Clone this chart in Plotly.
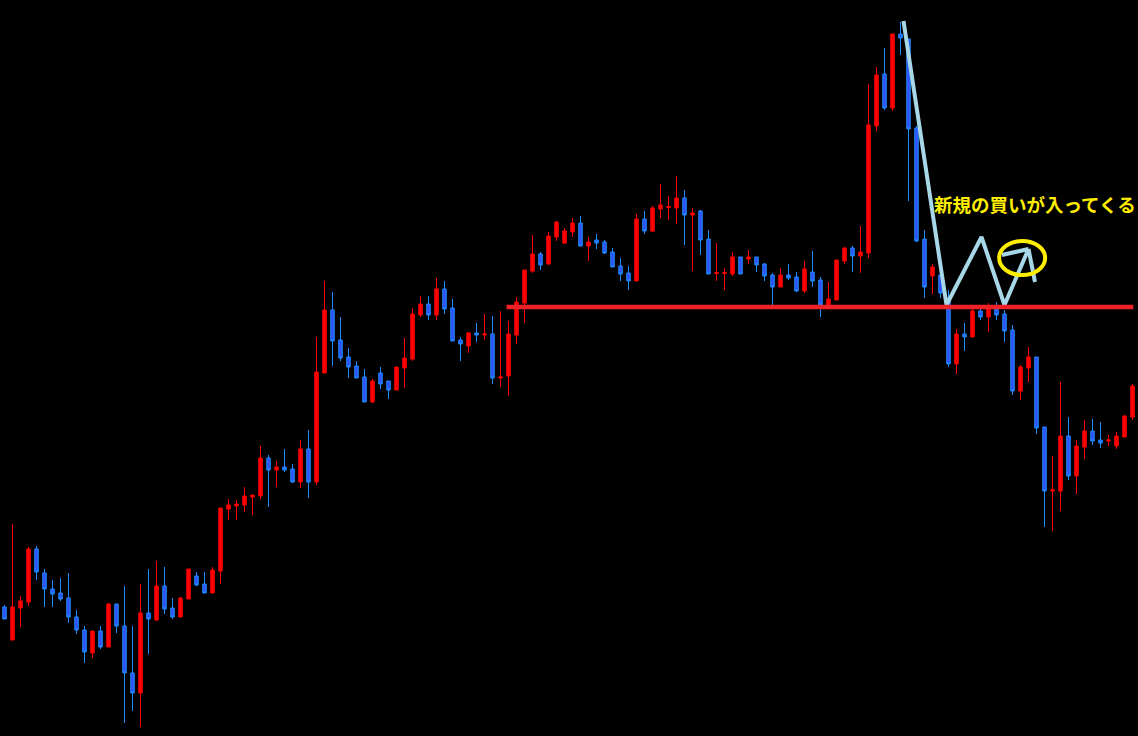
import plotly.graph_objects as go

# ---- candle data (index order, left to right) ----
opens = [129, 96, 128, 134, 187, 163, 147, 143, 138, 119, 106, 83, 105, 89, 132, 110, 63, 43, 123, 116,
         150, 128, 119, 137, 160, 152, 143, 165, 227, 230, 231, 239, 240, 278, 266, 269, 267, 254, 287, 254,
         363, 426, 396, 379, 370, 359, 334, 363, 355, 346, 368, 377, 421, 432, 421, 447, 428, 396, 390, 403,
         401, 402, 358, 360, 401, 433, 465, 482, 472, 499, 493, 504, 513, 490, 496, 494, 484, 470, 463, 455,
         517, 505, 527, 528.5, 528, 538, 521, 525, 497, 462.5, 462.5, 462, 479, 477, 479, 472, 461, 449, 461, 459,
         445, 464, 456, 430, 436, 475, 488, 480, 483, 610, 662, 628, 702, 697, 608, 497, 460, 461, 438, 372,
         402, 399, 425, 419, 427, 422, 406, 345, 368, 379, 309, 245, 245, 300, 260, 289, 305, 296, 295, 290,
         299, 319]
highs = [131, 212, 140, 189, 190, 167, 156, 158, 163, 126, 110, 105, 110, 133, 132, 150, 110, 152, 167, 175,
         169, 138, 139, 167, 164, 164, 169, 228, 237, 236, 249, 241, 290, 281, 275, 287, 272, 296, 306, 399,
         455, 444, 419, 388, 375, 367, 357, 369, 355, 369, 398, 428, 440, 440, 458, 455, 437, 399, 404, 413,
         422, 420, 425, 415, 439, 466, 501, 484, 504, 515, 508, 518, 520, 499, 502, 496, 488, 478, 470, 522,
         525, 530, 552, 540, 560, 546, 528, 526, 506, 493, 468, 484, 479, 486, 479, 473, 463, 468, 472, 464,
         475, 485, 459, 454, 476, 489, 490, 510, 652, 669, 688, 702, 714, 697, 610, 506, 472, 466, 446, 407,
         413, 427, 428, 433, 434, 426, 411, 371, 389, 379, 309, 280, 354, 319, 296, 316, 317, 314, 301, 304,
         321, 352]
lows = [117, 96, 109, 130, 156, 129, 129, 135, 113, 102, 73, 78, 87, 89, 103, 13, 25, 9, 82, 115,
        122, 117, 119, 137, 150, 143, 143, 152, 216, 216, 224, 221, 237, 229, 249, 264, 253, 248, 238, 251,
        363, 370, 375, 358, 358, 334, 333, 347, 337, 346, 348, 375, 419, 416, 416, 422, 395, 375, 383, 394,
        396, 352, 349, 340, 392, 413, 463, 466, 471, 495, 492, 499, 490, 475, 487, 482, 469, 455, 446, 455,
        502, 504, 518, 516, 512, 491, 465, 481, 462, 455, 446, 460, 462, 472, 464, 455, 431, 449, 456, 444,
        443, 449, 419, 428, 436, 472, 464, 463, 478, 605, 626, 625, 681, 535, 494, 438, 442, 438, 369, 362,
        385, 399, 416, 404, 416, 394, 341, 336, 354, 302, 209, 205, 225, 256, 242, 277, 291, 288, 290, 287,
        299, 316]
closes = [117, 129, 135, 187, 164, 147, 142, 137, 119, 106, 84, 105, 89, 132, 110, 63, 43, 123, 117, 150,
          127, 119, 138, 167, 151, 143, 166, 228, 231, 232, 240, 241, 278, 266, 269, 266, 254, 287, 254, 364,
          426, 395, 378, 369, 358, 334, 355, 352, 346, 369, 378, 422, 432, 421, 447, 427, 395, 392, 403, 401,
          402, 358, 359, 402, 434, 466, 482, 471, 500, 514, 505, 513, 490, 494, 493, 483, 469, 462, 455, 517,
          505, 528, 531, 529.5, 538, 521, 523, 496, 462, 463.5, 463.5, 479, 462, 479, 471, 460, 449, 461, 458, 445,
          467, 455, 431, 437, 476, 488, 480, 484, 611, 661, 628, 702, 698, 607, 495, 449, 469, 443, 372, 402,
          399, 425, 419, 428, 421, 405, 345, 369, 379, 308, 245, 246, 300, 260, 290, 305, 295, 293, 296, 300,
          320, 350]
idx = list(range(len(opens)))

# ---- annotation drawing (index, price) ----
support_level = 429
support_start, support_end = 62.75, 141.1
path_x = [112.375, 117.75, 122.125, 125.0, 128.0, None, 128.0, 124.69, None, 128.0, 128.81]
path_y = [715, 431, 499, 431, 487, None, 487, 481, None, 487, 454]
circle_x = [124.33, 130.08]
circle_y = [461, 495]
label_text = "新規の買いが入ってくる"
label_pos = (128.75, 532.5)

fig = go.Figure()
fig.add_trace(go.Candlestick(
    x=idx, open=opens, high=highs, low=lows, close=closes,
    increasing=dict(line=dict(color="#ff0000", width=1), fillcolor="#ff0000"),
    decreasing=dict(line=dict(color="#1e8cff", width=1), fillcolor="#3050ff"),
    hoverinfo="skip", whiskerwidth=0,
))
fig.add_trace(go.Scatter(
    x=path_x, y=path_y, mode="lines",
    line=dict(color="#a8d8e8", width=4), hoverinfo="skip", connectgaps=False,
))
fig.add_shape(type="line", x0=support_start, x1=support_end, y0=support_level, y1=support_level,
              line=dict(color="#ee2028", width=4.5), layer="above")
fig.add_shape(type="circle", x0=circle_x[0], x1=circle_x[1], y0=circle_y[0], y1=circle_y[1],
              line=dict(color="#ffee00", width=4), layer="above")
fig.add_annotation(x=label_pos[0], y=label_pos[1], text="<b>" + label_text + "</b>", showarrow=False,
                   font=dict(family="Noto Sans CJK JP", size=18.5, color="#ffee00"))

fig.update_layout(
    width=1138, height=736,
    margin=dict(l=0, r=0, t=0, b=0),
    paper_bgcolor="black", plot_bgcolor="black",
    showlegend=False, boxgap=0.38,
    xaxis=dict(visible=False, range=[-0.5625, 141.6875], rangeslider=dict(visible=False), fixedrange=True),
    yaxis=dict(visible=False, range=[0, 736], fixedrange=True),
)
fig.write_html(
    "out.html",
    config={"displayModeBar": False},
    post_script="document.body.style.margin='0';document.body.style.background='black';"
                "document.body.style.overflow='hidden';",
)
